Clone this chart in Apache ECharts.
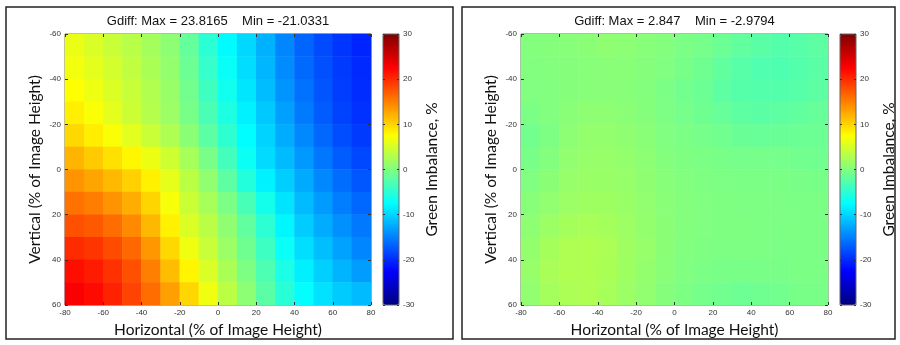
<!DOCTYPE html>
<html>
<head>
<meta charset="utf-8">
<script src="https://cdn.jsdelivr.net/npm/echarts@6/dist/echarts.min.js"></script>
<style>
  html, body { margin: 0; padding: 0; background: #fff; }
  #chart { width: 900px; height: 345px; }
</style>
</head>
<body>
<div id="chart"></div>
<script>
// cell centres (% of image height)
const xCenters = [-75, -65, -55, -45, -35, -25, -15, -5, 5, 15, 25, 35, 45, 55, 65, 75];
const yCenters = [-55, -45, -35, -25, -15, -5, 5, 15, 25, 35, 45, 55];

const titles = ['Gdiff: Max = 23.8165    Min = -21.0331', 'Gdiff: Max = 2.847    Min = -2.9794'];

// green imbalance before correction, rows top (-55) to bottom (55)
const leftValues = [
  [6.3, 5.3, 4.3, 3.3, 2.1, 0.8, -1.6, -5.0, -7.7, -9.8, -12.1, -14.6, -16.6, -18.1, -19.4, -20.4],
  [6.8, 5.9, 4.9, 3.8, 2.5, 1.1, -1.2, -4.4, -7.1, -9.5, -11.8, -14.3, -16.3, -17.8, -19.1, -20.1],
  [7.5, 6.5, 5.4, 4.2, 2.9, 1.4, -0.8, -3.8, -6.5, -9.0, -11.4, -13.8, -15.8, -17.5, -18.9, -19.9],
  [8.4, 7.2, 5.9, 4.5, 3.1, 1.6, -0.5, -3.2, -5.8, -8.3, -10.7, -13.1, -15.3, -17.1, -18.6, -19.6],
  [9.8, 8.5, 7.2, 5.8, 4.3, 2.7, 0.6, -2.1, -4.8, -7.6, -10.1, -12.4, -14.5, -16.4, -18.0, -19.1],
  [11.9, 10.6, 9.3, 8.0, 6.4, 4.6, 2.3, -0.4, -3.5, -6.9, -9.6, -11.5, -13.5, -15.5, -17.1, -18.3],
  [13.9, 12.8, 11.6, 10.2, 8.3, 6.0, 3.5, 1.0, -2.0, -5.5, -8.3, -10.4, -12.5, -14.5, -16.1, -17.4],
  [15.8, 15.1, 13.9, 12.3, 10.0, 7.0, 4.4, 2.3, -0.3, -3.3, -6.3, -9.1, -11.5, -13.4, -15.1, -16.4],
  [17.8, 17.3, 16.1, 14.4, 11.7, 8.3, 5.4, 3.4, 0.9, -1.8, -4.9, -8.0, -10.5, -12.4, -14.0, -15.4],
  [20.0, 19.4, 18.1, 16.4, 13.6, 9.8, 6.6, 4.2, 1.6, -1.0, -3.9, -7.0, -9.4, -11.3, -13.0, -14.6],
  [21.7, 20.9, 19.6, 17.8, 15.0, 11.4, 8.1, 5.3, 2.5, -0.2, -3.0, -6.0, -8.4, -10.3, -11.9, -13.3],
  [22.8, 21.9, 20.5, 18.6, 16.1, 13.1, 9.9, 6.6, 3.5, 0.7, -2.2, -5.1, -7.4, -9.2, -10.6, -11.5]
];

// green imbalance after correction
const rightValues = [
  [0.2, 0.3, 0.4, 0.6, 0.9, 0.7, 0.4, 0.2, -0.3, -0.6, -1.2, -1.8, -2.2, -2.6, -2.4, -2.0],
  [0.1, 0.2, 0.3, 0.4, 0.5, 0.5, 0.3, 0.0, -0.5, -1.0, -1.8, -2.4, -2.8, -2.9, -2.6, -2.2],
  [0.0, 0.1, 0.3, 0.4, 0.5, 0.4, 0.2, -0.3, -0.8, -1.2, -2.0, -2.5, -2.6, -2.6, -2.4, -2.0],
  [-0.3, 0.1, 0.5, 0.8, 0.8, 0.6, 0.3, -0.2, -0.6, -1.0, -1.5, -2.0, -2.2, -2.0, -1.8, -1.5],
  [-0.8, -0.2, 0.7, 1.1, 1.1, 0.9, 0.5, 0.0, -0.3, -0.6, -0.9, -1.3, -1.4, -1.3, -1.2, -1.2],
  [-0.5, 0.2, 1.0, 1.3, 1.3, 1.1, 0.7, 0.2, -0.1, -0.3, -0.5, -0.6, -0.6, -0.6, -0.8, -0.9],
  [0.0, 0.6, 1.3, 1.5, 1.5, 1.3, 0.9, 0.4, 0.1, -0.1, -0.2, -0.3, -0.3, -0.3, -0.4, -0.5],
  [0.4, 1.0, 1.6, 1.8, 1.8, 1.5, 1.0, 0.5, 0.2, 0.0, -0.1, -0.2, -0.2, -0.2, -0.3, -0.3],
  [0.8, 1.6, 2.2, 2.4, 2.2, 1.7, 1.2, 0.6, 0.2, 0.0, -0.1, -0.1, -0.2, -0.2, -0.2, -0.3],
  [1.2, 2.2, 2.7, 2.8, 2.6, 1.9, 1.3, 0.6, 0.1, -0.1, -0.2, -0.2, -0.2, -0.3, -0.3, -0.3],
  [1.3, 2.4, 2.8, 2.8, 2.5, 1.8, 1.2, 0.5, 0.0, -0.3, -0.4, -0.5, -0.4, -0.4, -0.3, -0.3],
  [1.0, 2.1, 2.6, 2.7, 2.3, 1.6, 1.0, 0.3, -0.2, -0.6, -0.9, -1.1, -1.0, -0.8, -0.5, -0.4]
];

const jet = ['#000080', '#0000ff', '#0080ff', '#00ffff', '#80ff80', '#ffff00', '#ff8000', '#ff0000', '#800000'];
const labelFont = 'Lato';
const tickFont = 'Liberation Sans';

// panel layout
const panels = [
  { plotLeft: 65, plotWidth: 306, barLeft: 383, values: leftValues, title: titles[0] },
  { plotLeft: 521, plotWidth: 307, barLeft: 840, values: rightValues, title: titles[1] }
];
const plotTop = 34, plotHeight = 271, barWidth = 16;

const chart = echarts.init(document.getElementById('chart'));

const grid = [], xAxis = [], yAxis = [], series = [], visualMap = [], title = [];

function toCells(values) {
  const out = [];
  values.forEach((row, yi) => {
    row.forEach((v, xi) => out.push([xi, yi, v]));
  });
  return out;
}

const noLine = { show: false, onZero: false };
const tickLine = { show: true, inside: true, length: 3, lineStyle: { color: '#333', width: 1 } };
const tickLabel = { color: '#333', fontSize: 8, fontFamily: tickFont, margin: 4 };
const nameStyle = { fontFamily: labelFont, fontSize: 15.5, color: '#111' };

panels.forEach((p, i) => {
  const g = grid.length;
  grid.push({ left: p.plotLeft, top: plotTop, width: p.plotWidth, height: plotHeight,
    show: true, borderColor: '#666', borderWidth: 1, backgroundColor: 'transparent' });

  // category axes carrying the cells
  const xCat = xAxis.length;
  xAxis.push({ type: 'category', gridIndex: g, data: xCenters, show: false });
  const yCat = yAxis.length;
  yAxis.push({ type: 'category', gridIndex: g, data: yCenters, inverse: true, show: false });

  // value axes for ticks and labels
  xAxis.push({
    type: 'value', gridIndex: g, position: 'bottom', min: -80, max: 80, interval: 20, z: 10,
    axisLine: noLine, axisTick: tickLine, splitLine: { show: false },
    axisLabel: tickLabel,
    name: 'Horizontal (% of Image Height)', nameLocation: 'middle', nameGap: 17,
    nameTextStyle: nameStyle
  });
  xAxis.push({
    type: 'value', gridIndex: g, position: 'top', min: -80, max: 80, interval: 20, z: 10,
    axisLine: noLine, axisTick: tickLine, splitLine: { show: false },
    axisLabel: { show: false }
  });
  yAxis.push({
    type: 'value', gridIndex: g, position: 'left', inverse: true, min: -60, max: 60, interval: 20, z: 10,
    axisLine: noLine, axisTick: tickLine, splitLine: { show: false },
    axisLabel: tickLabel,
    name: 'Vertical (% of Image Height)', nameLocation: 'middle', nameGap: 22,
    nameTextStyle: nameStyle
  });
  yAxis.push({
    type: 'value', gridIndex: g, position: 'right', inverse: true, min: -60, max: 60, interval: 20, z: 10,
    axisLine: noLine, axisTick: tickLine, splitLine: { show: false },
    axisLabel: { show: false }
  });

  series.push({
    type: 'heatmap', xAxisIndex: xCat, yAxisIndex: yCat, data: toCells(p.values),
    z: 1, silent: true, itemStyle: { borderWidth: 0 }
  });

  visualMap.push({
    type: 'continuous', seriesIndex: i, min: -30, max: 30, inRange: { color: jet },
    orient: 'vertical', left: p.barLeft, top: plotTop, itemWidth: barWidth, itemHeight: plotHeight,
    padding: 0, calculable: false, hoverLink: false, text: null, showLabel: false
  });

  // colorbar frame with its own ticks
  const cg = grid.length;
  grid.push({ left: p.barLeft, top: plotTop, width: barWidth, height: plotHeight,
    show: true, borderColor: '#666', borderWidth: 1, backgroundColor: 'transparent', z: 10 });
  xAxis.push({ type: 'value', gridIndex: cg, min: 0, max: 1, show: false, axisLine: noLine });
  yAxis.push({
    type: 'value', gridIndex: cg, position: 'right', min: -30, max: 30, interval: 10, z: 10,
    axisLine: noLine, axisTick: { show: true, inside: true, length: 2, lineStyle: { color: '#333' } },
    splitLine: { show: false }, axisLabel: tickLabel,
    name: 'Green Imbalance, %', nameLocation: 'middle', nameGap: 25, nameRotate: 90,
    nameTextStyle: Object.assign({ padding: [0, 0, 0, 0] }, nameStyle)
  });
  yAxis.push({
    type: 'value', gridIndex: cg, position: 'left', min: -30, max: 30, interval: 10, z: 10,
    axisLine: noLine, axisTick: { show: true, inside: true, length: 2, lineStyle: { color: '#333' } },
    splitLine: { show: false }, axisLabel: { show: false }
  });

  title.push({
    text: p.title, left: p.plotLeft + p.plotWidth / 2, top: 15, textAlign: 'center', padding: 0,
    textStyle: { fontFamily: tickFont, fontSize: 13, fontWeight: 'normal', color: '#111' }
  });
});

chart.setOption({
  animation: false,
  title: title,
  grid: grid,
  xAxis: xAxis,
  yAxis: yAxis,
  visualMap: visualMap,
  series: series,
  graphic: [
    { type: 'rect', shape: { x: 6, y: 7, width: 447, height: 332 }, style: { fill: 'none', stroke: '#222', lineWidth: 1.5 } },
    { type: 'rect', shape: { x: 462, y: 7, width: 433, height: 332 }, style: { fill: 'none', stroke: '#222', lineWidth: 1.5 } }
  ]
});
</script>
</body>
</html>
